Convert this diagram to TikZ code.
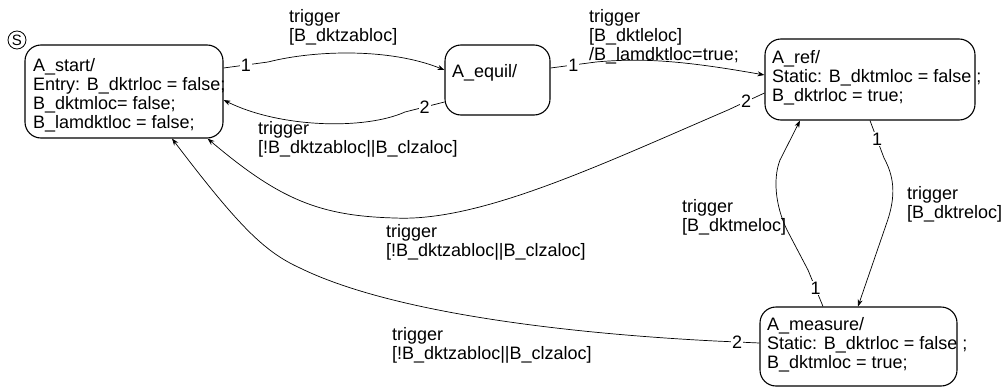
\documentclass[tikz,border=0pt]{standalone}
\usepackage{fontspec}
\setmainfont{Liberation Sans}
\usetikzlibrary{arrows.meta}
\newcommand{\lblfont}{\fontsize{18}{19}\selectfont}

\begin{document}
\begin{tikzpicture}[x=1pt,y=-1pt,
  state/.style={draw,line width=1.1pt,rounded corners=16pt,inner sep=0pt},
  txt/.style={anchor=north west,inner sep=0pt,align=left,font=\lblfont},
  trans/.style={-{Stealth[length=7pt,width=5pt]},line width=0.7pt},
  num/.style={fill=white,inner sep=1pt,font=\lblfont}]
  \useasboundingbox (0,0) rectangle (1004,388);
  \node[draw,circle,inner sep=0pt,minimum size=18pt,line width=0.8pt,font=\fontsize{15}{15}\selectfont] (init) at (17,40) {S};
  \node[state,minimum width=198pt,minimum height=93pt] (start) at (124,91.5) {};
  \node[state,minimum width=105pt,minimum height=70pt] (equil) at (497.5,80) {};
  \node[state,minimum width=210pt,minimum height=81pt] (ref) at (870,79.5) {};
  \node[state,minimum width=197pt,minimum height=79pt] (measure) at (858.5,346.5) {};
  \node[txt] (tstart) at (33,57.7) {\strut A\_start/\\Entry: B\_dktrloc = false;\\B\_dktmloc= false;\\B\_lamdktloc = false;};
  \node[txt] (tequil) at (452,63.7) {\strut A\_equil/};
  \node[txt] (tref) at (772,49.7) {\strut A\_ref/\\Static: B\_dktmloc = false ;\\B\_dktrloc = true;};
  \node[txt] (tmeasure) at (767,316.7) {\strut A\_measure/\\Static: B\_dktrloc = false ;\\B\_dktmloc = true;};
  \draw[trans] (start.east |- 0,68) -- node[num]{1} (268,62)
    .. controls (315,50) and (390,48) .. (equil.west |- 0,70);
  \draw[trans] (equil.west |- 0,102) -- node[num]{2} (405,112)
    .. controls (365,130) and (280,128) .. (start.east |- 0,100);
  \draw[trans] (equil.east |- 0,68) -- node[num]{1} (596,62)
    .. controls (640,58) and (680,60) .. (ref.west |- 0,75);
  \draw[trans] (ref.west |- 0,93) -- node[num]{2} (728,110)
    .. controls (600,165) and (480,222) .. (395,218)
    .. controls (320,216) and (280,200) .. ([xshift=-16pt]start.south east);
  \draw[trans] (measure.west |- 0,343) -- node[num]{2} (715,341)
    .. controls (560,333) and (390,312) .. (300,268)
    .. controls (265,252) and (240,228) .. (start.south -| 172,0);
  \draw[trans] (measure.north -| 823,0) -- node[num]{1} (808,270) -- (787,230)
    .. controls (775,205) and (773,178) .. (780,160) -- (ref.south -| 800,0);
  \draw[trans] (ref.south -| 870,0) -- node[num]{1} (884,158)
    .. controls (896,180) and (895,200) .. (886,225) -- (measure.north -| 858,0);
  \node[txt] (gzab) at (289,8.7) {\strut trigger\\{}[B\_dktzabloc]};
  \node[txt] (gnzab) at (258,120.7) {\strut trigger\\{}[!B\_dktzabloc||B\_clzaloc]};
  \node[txt] (gle) at (589,8.7) {\strut trigger\\{}[B\_dktleloc]\\/B\_lamdktloc=true;};
  \node[txt] (gnzabref) at (386,223.7) {\strut trigger\\{}[!B\_dktzabloc||B\_clzaloc]};
  \node[txt] (gnzabmeas) at (392,326.7) {\strut trigger\\{}[!B\_dktzabloc||B\_clzaloc]};
  \node[txt] (gme) at (682,198.7) {\strut trigger\\{}[B\_dktmeloc]};
  \node[txt] (gre) at (907,185.7) {\strut trigger\\{}[B\_dktreloc]};
\end{tikzpicture}
\end{document}
